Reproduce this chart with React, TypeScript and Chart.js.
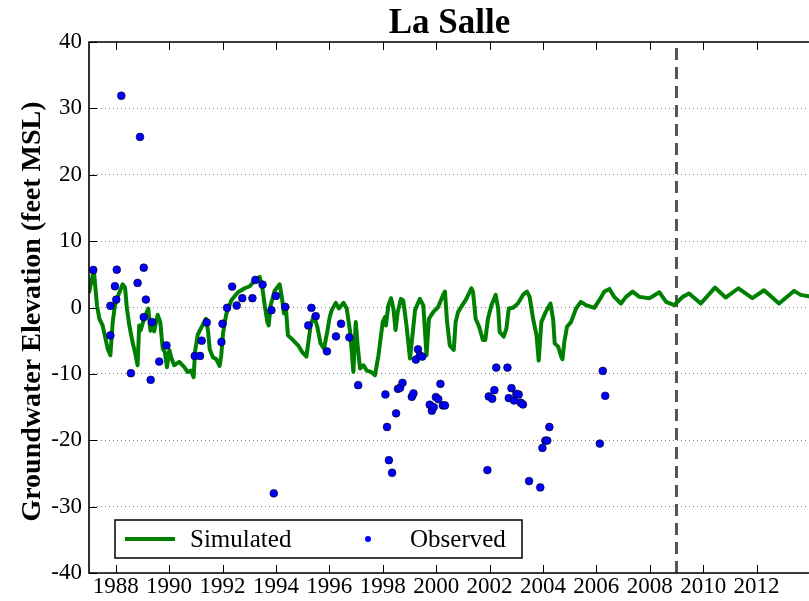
import React, { useEffect, useRef } from "react";
import { Chart, registerables } from "chart.js";

Chart.register(...registerables);

const SITE_TITLE = "La Salle";
const Y_AXIS_TITLE = "Groundwater Elevation (feet MSL)";
const LEGEND_LABELS = ["Simulated", "Observed"];
const X_MIN = 1987;
const X_MAX = 2014;
const Y_MIN = -40;
const Y_MAX = 40;
const X_TICK_YEARS = [1988, 1990, 1992, 1994, 1996, 1998, 2000, 2002, 2004, 2006, 2008, 2010, 2012];
const Y_TICKS = [-40, -30, -20, -10, 0, 10, 20, 30, 40];
const FORECAST_START = 2009;

const simYears = [
  1987.01, 1987.18, 1987.3, 1987.39, 1987.51, 1987.7, 1987.8, 1987.89, 1987.97, 1988.1,
  1988.26, 1988.35, 1988.42, 1988.51, 1988.63, 1988.72, 1988.82, 1988.88, 1988.94, 1989.01,
  1989.09, 1989.22, 1989.3, 1989.38, 1989.44, 1989.57, 1989.67, 1989.76, 1989.84, 1989.92,
  1990.01, 1990.09, 1990.19, 1990.38, 1990.57, 1990.69, 1990.82, 1990.92, 1990.97, 1991.07,
  1991.25, 1991.38, 1991.46, 1991.52, 1991.64, 1991.77, 1991.89, 1991.95, 1992.02, 1992.14,
  1992.33, 1992.58, 1992.83, 1993.02, 1993.21, 1993.39, 1993.48, 1993.58, 1993.68, 1993.73,
  1993.8, 1993.95, 1994.14, 1994.23, 1994.3, 1994.38, 1994.45, 1994.64, 1994.83, 1994.98,
  1995.14, 1995.2, 1995.3, 1995.42, 1995.55, 1995.67, 1995.8, 1995.92, 1996.01, 1996.09,
  1996.24, 1996.36, 1996.53, 1996.65, 1996.78, 1996.9, 1996.99, 1997.06, 1997.15, 1997.28,
  1997.4, 1997.56, 1997.71, 1997.84, 1998.0, 1998.09, 1998.12, 1998.21, 1998.31, 1998.4,
  1998.48, 1998.56, 1998.68, 1998.77, 1998.89, 1999.02, 1999.1, 1999.21, 1999.39, 1999.52,
  1999.64, 1999.73, 1999.89, 2000.08, 2000.26, 2000.33, 2000.41, 2000.51, 2000.66, 2000.73,
  2000.82, 2000.94, 2001.13, 2001.32, 2001.38, 2001.48, 2001.61, 2001.75, 2001.84, 2001.94,
  2002.07, 2002.23, 2002.32, 2002.38, 2002.53, 2002.63, 2002.72, 2002.88, 2003.06, 2003.25,
  2003.4, 2003.5, 2003.63, 2003.76, 2003.84, 2003.94, 2004.1, 2004.28, 2004.38, 2004.44,
  2004.57, 2004.69, 2004.73, 2004.8, 2004.9, 2005.05, 2005.24, 2005.42, 2005.61, 2005.92,
  2006.11, 2006.3, 2006.49, 2006.67, 2006.92, 2007.11, 2007.36, 2007.61, 2007.99, 2008.36,
  2008.61, 2008.92, 2009.23, 2009.47, 2009.91, 2010.44, 2010.84, 2011.32, 2011.84, 2012.28,
  2012.84, 2013.4, 2013.65, 2013.94, 2014.1,
];
const simValues = [
  2.4, 5.65, 0.3, -1.7, -2.7, -6.2, -7.2, -2.1, 0.3, 1.9,
  3.5, 3.0, -0.15, -2.7, -5.2, -6.7, -8.7, -2.7, -3.4, -2.4,
  -1.4, -0.15, -3.5, -2.2, -3.6, -1.1, -2.2, -6.2, -6.7, -9.0,
  -6.4, -7.7, -8.7, -8.2, -9.0, -9.7, -9.5, -10.5, -6.7, -4.1,
  -2.7, -1.7, -3.6, -6.3, -7.5, -7.8, -8.8, -7.3, -3.8, -1.0,
  1.1, 2.3, 2.9, 3.2, 4.1, 4.6, 3.3, 0.3, -2.2, -2.7,
  0.3, 2.5, 3.5, 1.3, -0.9, -0.4, -4.2, -4.9, -5.7, -6.7,
  -7.4, -5.7, -2.7, -1.2, -2.9, -5.4, -6.2, -3.7, -1.5, -0.4,
  0.7, -0.15, 0.7, -0.15, -3.7, -9.7, -2.2, -5.7, -9.2, -8.7,
  -9.5, -9.7, -10.2, -7.2, -2.2, -1.4, -2.7, 0.3, 1.4, -0.15,
  -3.4, -0.7, 1.3, 1.0, -2.7, -7.7, -4.7, -0.4, 1.3, 0.3,
  -7.2, -1.7, -0.7, 0.1, 1.9, 2.4, -2.2, -5.7, -6.4, -2.2,
  -0.7, 0.1, 1.3, 2.9, 2.4, -1.7, -2.9, -4.9, -4.9, -1.7,
  0.35, 1.9, -0.1, -3.7, -4.4, -3.2, -0.15, -0.05, 0.6, 1.9,
  2.4, 1.6, -1.7, -4.2, -8.0, -2.2, -0.7, 0.6, -1.7, -5.4,
  -5.9, -7.5, -7.8, -5.2, -2.9, -2.2, -0.15, 0.85, 0.35, -0.05,
  1.1, 2.4, 2.8, 1.6, 0.6, 1.6, 2.4, 1.6, 1.4, 2.3,
  0.85, 0.35, 1.6, 2.1, 0.6, 3.0, 1.5, 2.9, 1.4, 2.6,
  0.6, 2.5, 1.9, 1.7, 1.6,
];

const obsYears = [
  1987.16, 1987.8, 1987.8, 1987.97, 1988.02, 1988.04, 1988.21, 1988.57, 1988.82, 1988.91,
  1989.05, 1989.05, 1989.13, 1989.31, 1989.36, 1989.63, 1989.9, 1990.96, 1991.16, 1991.22,
  1991.41, 1991.96, 1992.0, 1992.17, 1992.36, 1992.53, 1992.74, 1993.12, 1993.23, 1993.5,
  1993.83, 1993.92, 1994.0, 1994.35, 1995.21, 1995.33, 1995.49, 1995.91, 1996.25, 1996.44,
  1996.75, 1997.08, 1998.1, 1998.16, 1998.23, 1998.35, 1998.5, 1998.57, 1998.65, 1998.74,
  1999.09, 1999.15, 1999.24, 1999.32, 1999.39, 1999.48, 1999.76, 1999.84, 1999.91, 1999.99,
  2000.08, 2000.16, 2000.25, 2000.33, 2001.92, 2001.97, 2002.1, 2002.18, 2002.25, 2002.67,
  2002.72, 2002.82, 2002.92, 2003.0, 2003.09, 2003.17, 2003.25, 2003.48, 2003.9, 2003.98,
  2004.09, 2004.16, 2004.24, 2006.13, 2006.24, 2006.33,
];
const obsValues = [
  5.65, 0.25, -4.2, 3.2, 1.2, 5.7, 31.9, -9.9, 3.7, 25.7,
  6.0, -1.45, 1.2, -10.9, -2.2, -8.15, -5.7, -7.3, -7.3, -5.0,
  -2.25, -5.2, -2.45, -0.05, 3.15, 0.3, 1.4, 1.4, 4.15, 3.45,
  -0.4, -28.0, 1.75, 0.1, -2.7, -0.05, -1.3, -6.6, -4.35, -2.45,
  -4.5, -11.7, -13.1, -18.0, -23.0, -24.9, -15.95, -12.25, -12.1, -11.35,
  -13.45, -12.95, -7.85, -6.3, -7.2, -7.4, -14.65, -15.55, -15.0, -13.5,
  -13.8, -11.5, -14.75, -14.75, -24.5, -13.4, -13.75, -12.45, -9.05, -9.05,
  -13.65, -12.15, -14.0, -13.0, -13.1, -14.35, -14.6, -26.15, -27.1, -21.15,
  -20.05, -20.05, -18.0, -20.5, -9.55, -13.3,
];

const FONT = "'Liberation Serif', 'Times New Roman', serif";
const SIM_COLOR = "#008000";
const OBS_COLOR = "#0000ff";

const decorPlugin = {
  id: "decor",
  afterDraw(chart: any) {
    const { ctx, chartArea: a, scales } = chart;
    const xs = scales.x;
    const ys = scales.y;
    ctx.save();
    // frame
    ctx.strokeStyle = "#000";
    ctx.lineWidth = 1.6;
    ctx.setLineDash([]);
    ctx.beginPath();
    ctx.moveTo(a.right + 5, a.top);
    ctx.lineTo(a.left, a.top);
    ctx.lineTo(a.left, a.bottom);
    ctx.lineTo(a.right + 5, a.bottom);
    ctx.stroke();
    // inward ticks
    ctx.lineWidth = 1;
    ctx.beginPath();
    X_TICK_YEARS.forEach((v) => {
      const px = Math.round(xs.getPixelForValue(v)) + 0.5;
      ctx.moveTo(px, a.top);
      ctx.lineTo(px, a.top + 8);
      ctx.moveTo(px, a.bottom);
      ctx.lineTo(px, a.bottom - 8);
    });
    Y_TICKS.forEach((v) => {
      const py = Math.round(ys.getPixelForValue(v)) + 0.5;
      ctx.moveTo(a.left, py);
      ctx.lineTo(a.left + 8, py);
    });
    ctx.stroke();
    // title
    ctx.fillStyle = "#000";
    ctx.font = `bold 35px ${FONT}`;
    ctx.textAlign = "center";
    ctx.textBaseline = "alphabetic";
    ctx.fillText(SITE_TITLE, (a.left + a.right) / 2, 33);
    // y axis title
    ctx.save();
    ctx.translate(40, (a.top + a.bottom) / 2 + 4);
    ctx.rotate(-Math.PI / 2);
    ctx.font = `bold 28px ${FONT}`;
    ctx.fillText(Y_AXIS_TITLE, 0, 0);
    ctx.restore();
    // legend
    const bx = a.left + 26;
    const by = 520;
    const bw = 407;
    const bh = 38;
    ctx.fillStyle = "#fff";
    ctx.fillRect(bx, by, bw, bh);
    ctx.strokeStyle = "#000";
    ctx.lineWidth = 1.5;
    ctx.strokeRect(bx, by, bw, bh);
    const cy = by + bh / 2;
    ctx.strokeStyle = SIM_COLOR;
    ctx.lineWidth = 4;
    ctx.beginPath();
    ctx.moveTo(bx + 10, cy);
    ctx.lineTo(bx + 60, cy);
    ctx.stroke();
    ctx.fillStyle = OBS_COLOR;
    ctx.beginPath();
    ctx.arc(bx + 253, cy, 3, 0, Math.PI * 2);
    ctx.fill();
    ctx.fillStyle = "#000";
    ctx.font = `25px ${FONT}`;
    ctx.textAlign = "left";
    ctx.fillText(LEGEND_LABELS[0], bx + 75, cy + 8);
    ctx.fillText(LEGEND_LABELS[1], bx + 295, cy + 8);
    ctx.restore();
  },
};

export default function App() {
  const ref = useRef<HTMLCanvasElement | null>(null);
  useEffect(() => {
    if (!ref.current) return;
    const chart = new Chart(ref.current, {
      type: "scatter",
      data: {
        datasets: [
          {
            label: LEGEND_LABELS[1],
            data: obsYears.map((x, i) => ({ x, y: obsValues[i] })),
            showLine: false,
            pointRadius: 3.9,
            pointBackgroundColor: OBS_COLOR,
            pointBorderColor: "#000",
            pointBorderWidth: 0.6,
          },
          {
            label: LEGEND_LABELS[0],
            data: simYears.map((x, i) => ({ x, y: simValues[i] })),
            showLine: true,
            borderColor: SIM_COLOR,
            borderWidth: 4,
            pointRadius: 0,
            tension: 0,
            borderJoinStyle: "round",
            borderCapStyle: "round",
          },
          {
            label: "forecast",
            data: [
              { x: FORECAST_START, y: Y_MIN },
              { x: FORECAST_START, y: Y_MAX },
            ],
            showLine: true,
            borderColor: "#555555",
            borderWidth: 3,
            borderDash: [12, 7],
            pointRadius: 0,
          },
        ],
      },
      options: {
        responsive: false,
        animation: false,
        devicePixelRatio: 1,
        layout: { padding: { top: 42, right: 10, left: 0, bottom: 0 } },
        plugins: {
          legend: { display: false },
          title: { display: false },
          tooltip: { enabled: false },
        },
        scales: {
          x: {
            type: "linear",
            min: X_MIN,
            max: X_MAX,
            afterBuildTicks: (s: any) => {
              s.ticks = X_TICK_YEARS.map((v) => ({ value: v }));
            },
            afterFit: (s: any) => {
              s.height = 28;
            },
            grid: { display: false, drawTicks: false },
            border: { display: false },
            ticks: {
              autoSkip: false,
              maxRotation: 0,
              minRotation: 0,
              padding: 0,
              color: "#000",
              font: { family: FONT, size: 23 },
              callback: (v: any) => String(v),
            },
          },
          y: {
            type: "linear",
            min: Y_MIN,
            max: Y_MAX,
            afterBuildTicks: (s: any) => {
              s.ticks = Y_TICKS.map((v) => ({ value: v }));
            },
            afterFit: (s: any) => {
              s.width = 89;
            },
            grid: { color: "#808080", lineWidth: 1, drawTicks: false },
            border: { display: false, dash: [1, 3] },
            ticks: {
              padding: 7,
              color: "#000",
              font: { family: FONT, size: 23 },
              callback: (v: any) => String(v),
            },
          },
        },
      },
      plugins: [decorPlugin],
    });
    return () => chart.destroy();
  }, []);
  return (
    <div
      style={{
        position: "fixed",
        left: 0,
        top: 0,
        width: 809,
        height: 601,
        overflow: "hidden",
        background: "#fff",
      }}
    >
      <canvas ref={ref} width={820} height={601} style={{ display: "block" }} />
    </div>
  );
}
